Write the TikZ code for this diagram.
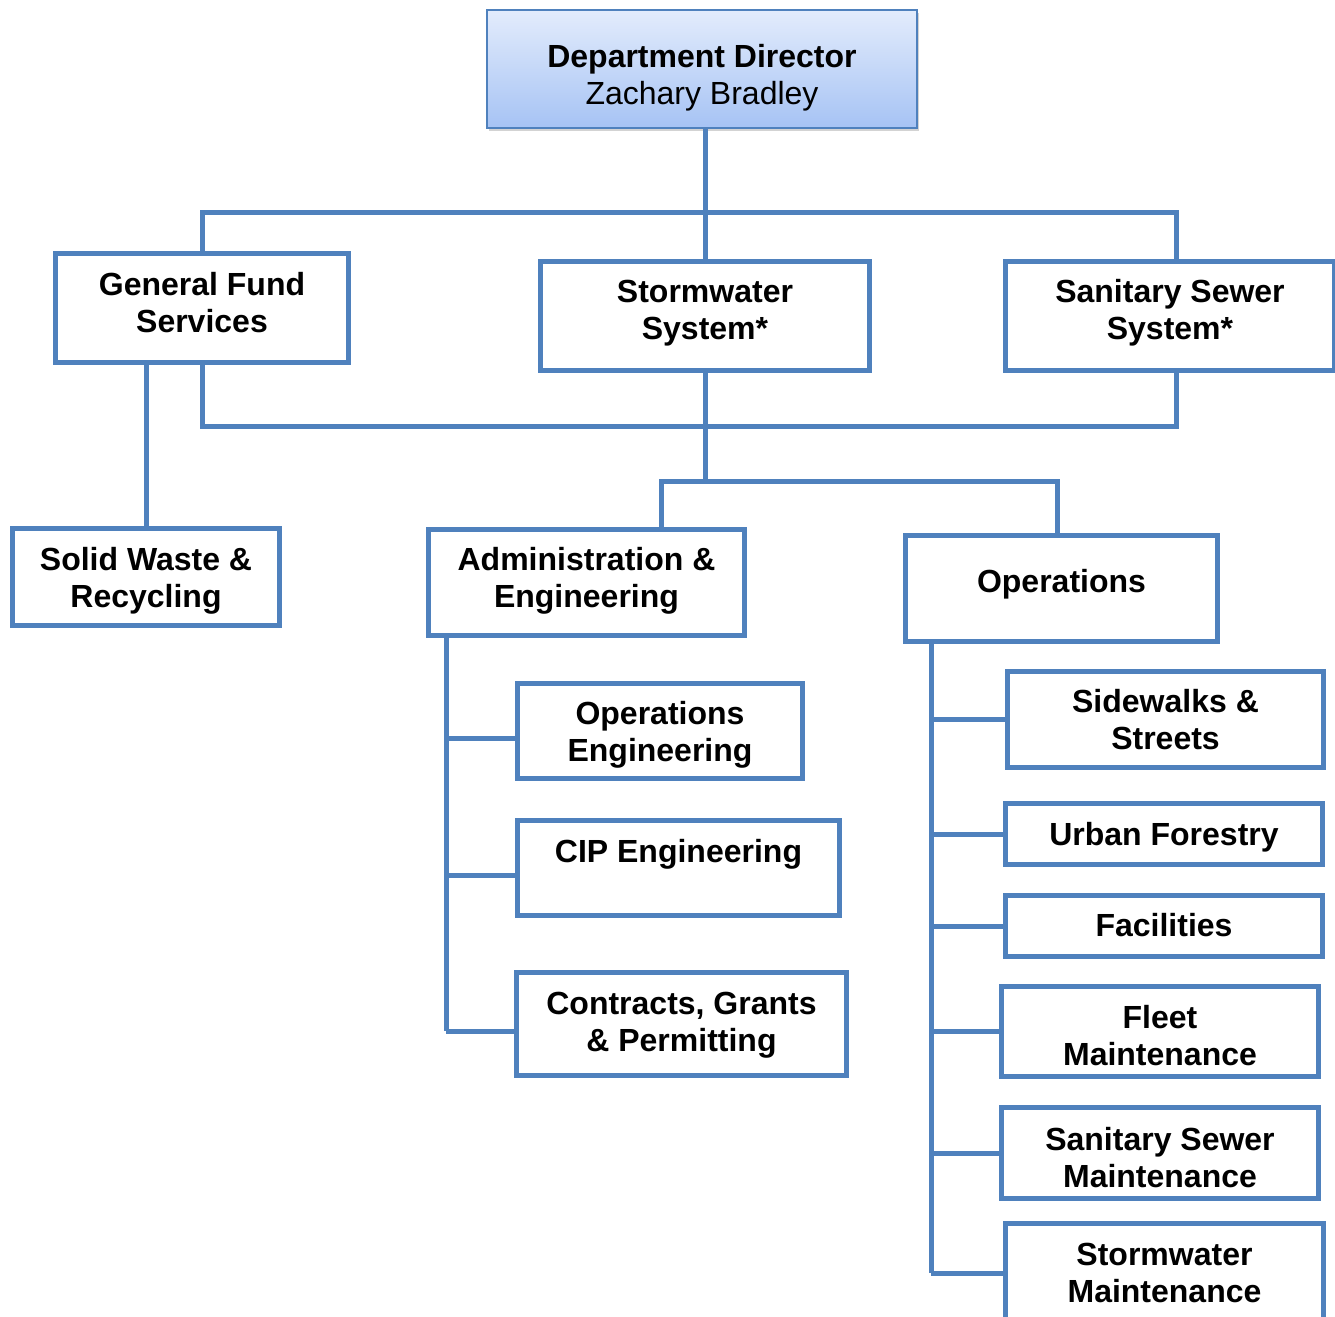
\documentclass[tikz,border=0pt]{standalone}
\usepackage{fontspec}
\setmainfont{Liberation Sans}
\usepackage{xcolor}
\usepackage{tikz}
\usetikzlibrary{shadows}
\definecolor{orgblue}{HTML}{4F81BD}
\definecolor{dirtop}{HTML}{E3ECFC}
\definecolor{dirbottom}{HTML}{A6C3F4}
\newcommand{\px}{0.75pt}
\newcommand{\topgap}[1]{\rule{0pt}{#1pt}}
\newcommand{\botgap}[1]{\rule[-#1pt]{0pt}{#1pt}}
\tikzstyle{unit} = [rectangle, draw=orgblue, line width=3.75pt, fill=white, align=center, inner sep=0pt, font=\bfseries\fontsize{24}{27.75}\selectfont]
\tikzstyle{director} = [rectangle, draw=orgblue, line width=1.9pt, top color=dirtop, bottom color=dirbottom, align=center, inner sep=0pt, font=\fontsize{24}{27.75}\selectfont, drop shadow={shadow xshift=1.5pt, shadow yshift=-2pt, opacity=0.35}]
\tikzstyle{link} = [draw=orgblue, line width=3.75pt]

\begin{document}
\begin{tikzpicture}[x=\px, y=-\px]
   \useasboundingbox (0,0) rectangle (1335,1317);
   \node (dir) [director, minimum width=430*\px, minimum height=118*\px] at (702,69) {\topgap{34}\textbf{Department Director}\\Zachary Bradley\botgap{8}};
   \node (gfs) [unit, minimum width=293*\px, minimum height=109*\px] at (202,308) {\topgap{20}General Fund\\Services\botgap{11.5}};
   \node (sws) [unit, minimum width=329*\px, minimum height=109*\px] at (705,316) {\topgap{20}Stormwater\\System*\botgap{12}};
   \node (sss) [unit, minimum width=329*\px, minimum height=109*\px] at (1170,316) {\topgap{20}Sanitary Sewer\\System*\botgap{12}};
   \node (sw) [unit, minimum width=267*\px, minimum height=97*\px] at (146,577) {\topgap{26.5}Solid Waste \&\\Recycling\botgap{8}};
   \node (adm) [unit, minimum width=316*\px, minimum height=106*\px] at (586.5,582.5) {\topgap{20}Administration \&\\Engineering\botgap{10.5}};
   \node (ops) [unit, minimum width=312*\px, minimum height=106*\px] at (1061.5,588.5) {\topgap{20}Operations\botgap{13.5}};
   \node (oe) [unit, minimum width=285*\px, minimum height=95*\px] at (660,731) {\topgap{26.5}Operations\\Engineering\botgap{8}};
   \node (cip) [unit, minimum width=322*\px, minimum height=95*\px] at (678.5,868) {\topgap{27}CIP Engineering\\\botgap{8}};
   \node (cgp) [unit, minimum width=330*\px, minimum height=103*\px] at (681.5,1024) {\topgap{22}Contracts, Grants\\\& Permitting\botgap{8}};
   \node (ss) [unit, minimum width=316*\px, minimum height=96*\px] at (1165.5,719.5) {\topgap{25.5}Sidewalks \&\\Streets\botgap{8}};
   \node (uf) [unit, minimum width=317*\px, minimum height=61*\px] at (1164,834) {\topgap{25}Urban Forestry\botgap{8}};
   \node (fac) [unit, minimum width=317*\px, minimum height=61*\px] at (1164,926) {\topgap{24}Facilities\botgap{8}};
   \node (fm) [unit, minimum width=317*\px, minimum height=88*\px] at (1160,1031.5) {\topgap{31.5}Fleet\\Maintenance\botgap{8}};
   \node (ssm) [unit, minimum width=317*\px, minimum height=87*\px] at (1160,1153) {\topgap{32.2}Sanitary Sewer\\Maintenance\botgap{8}};
   \node (sm) [unit, minimum width=318*\px, minimum height=99*\px] at (1164.5,1273) {\topgap{24}Stormwater\\Maintenance\botgap{8}};

   \coordinate (topbar) at (705,212);
   \coordinate (midbar) at (705,426);
   \coordinate (lowbar) at (705,481);
   \coordinate (sssleg) at (1176,0);
   \coordinate (admleg) at (661,0);
   \coordinate (opsleg) at (1057,0);
   \coordinate (admtrunk) at (446,0);
   \coordinate (opstrunk) at (931,0);

   \draw [link] (sws.north |- dir.south) -- (sws.north);
   \draw [link] (gfs.north) -- (gfs.north |- topbar) -- (sssleg |- topbar) -- (sssleg |- sss.north);
   \draw [link] (gfs.south) -- (gfs.south |- midbar) -- (sssleg |- midbar) -- (sssleg |- sss.south);
   \draw [link] (sws.south) -- (lowbar);
   \draw [link] (admleg |- adm.north) -- (admleg |- lowbar) -- (opsleg |- lowbar) -- (opsleg |- ops.north);
   \draw [link] (sw.north) -- (sw.north |- gfs.south);
   \foreach \n in {oe,cip,cgp}
      \path ([yshift=-5.25pt]\n.west) coordinate (\n-in);
   \draw [link] (admtrunk |- adm.south) -- (admtrunk |- cgp-in);
   \foreach \n in {oe,cip,cgp}
      \draw [link] (admtrunk |- \n-in) -- (\n-in);
   \draw [link] (opstrunk |- ops.south) -- (opstrunk |- sm.west);
   \foreach \n in {ss,uf,fac,fm,ssm,sm}
      \draw [link] (opstrunk |- \n.west) -- (\n.west);
\end{tikzpicture}
\end{document}
